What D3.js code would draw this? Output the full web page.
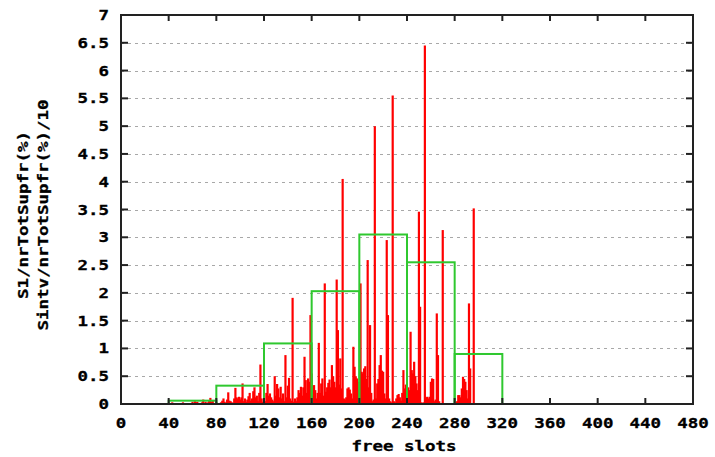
<!DOCTYPE html>
<html>
<head>
<meta charset="utf-8">
<script src="https://cdn.jsdelivr.net/npm/d3@7"></script>
<style>
  html, body { margin: 0; padding: 0; background: #fff; }
  svg { display: block; }
  text { font-family: "DejaVu Sans Mono", monospace; font-weight: bold; fill: #000; }
</style>
</head>
<body>
<svg id="chart" width="715" height="457"></svg>
<script>
// ---- data ----
const slotStart = 40;
const s1Values = [
  0,0,0,0.03,0,0,0,0,0,0,
  0,0,0.03,0,0,0,0,0,0,0,
  0.04,0.02,0.05,0.03,0.04,0.02,0,0,0.03,0.08,
  0.02,0.04,0,0.03,0.06,0.11,0.04,0.06,0.02,0,
  0.03,0,0,0.02,0.03,0.06,0.1,0.04,0.02,0.08,
  0.21,0.06,0.05,0.03,0.02,0.1,0.29,0.12,0.1,0.13,
  0.08,0.12,0.37,0.05,0.1,0.04,0.08,0.14,0.2,0.06,
  0.1,0.23,0.3,0.12,0.15,0.05,0.2,0.71,0.1,0.04,
  0.03,0.05,0.2,0.36,0.15,0.19,0.12,0.08,0.05,0.5,
  0.15,0.36,0.28,0.12,0.31,0.1,0.19,0.05,0.88,0.12,
  0.33,0.47,0.1,0.06,1.91,0.04,0.1,0.05,0.12,0.25,
  0.2,0.31,0.15,0.3,0.85,0.43,0.2,0.46,0.4,1.6,
  0.55,0.15,0.34,0.25,0.1,0.2,1.1,0.2,0.37,0.46,
  0.15,2.17,0.22,0.3,0.38,0.44,0.3,0.7,0.5,0.4,
  0.3,2.24,1.33,0.35,0.82,0.28,4.05,0.1,0.08,0.12,
  0.28,0.3,0.26,0.19,0.1,1.03,0.67,0.5,0.46,0.25,
  0.4,2.17,0.58,0.55,0.64,0.68,0.45,2.59,0.3,1.42,
  0.2,0.05,0.08,5.0,0.1,0.37,0.45,0.7,0.88,0.6,
  0.58,0.19,0.1,2.95,1.6,0.1,0.05,0.03,5.55,0.05,
  0.03,0.1,0.16,0.18,0.12,0.06,0.2,0.61,0.28,0.35,
  0.2,0.3,0.25,1.3,0.61,0.55,0.76,0.5,0.37,0.25,
  3.46,1.75,0.03,0.02,0.03,6.45,0.12,0.13,0.1,0.13,
  0.4,0.46,0.45,0.05,0.08,1.63,0.88,0.05,0,0,
  3.13,0,0,0,0,0,0,0,0,0,
  0,0.03,0.05,0.16,0.16,0.12,0.28,0.49,0.45,0.4,
  0.25,0.1,1.81,0.64,0,0,3.52,0
];
const slots = d3.range(slotStart, slotStart + s1Values.length);

const binStarts = [40, 80, 120, 160, 200, 240, 280];
const binEnds   = [80, 120, 160, 200, 240, 280, 320];
const sintvValues = [0.06, 0.33, 1.09, 2.03, 3.05, 2.55, 0.9];

const xTicks = [0, 40, 80, 120, 160, 200, 240, 280, 320, 360, 400, 440, 480];
const yTicks = [0, 0.5, 1, 1.5, 2, 2.5, 3, 3.5, 4, 4.5, 5, 5.5, 6, 6.5, 7];
const yTickLabels = ["0","0.5","1","1.5","2","2.5","3","3.5","4","4.5","5","5.5","6","6.5","7"];
const xLabel = "free slots";
const yLabel1 = "S1/nrTotSupfr(%)";
const yLabel2 = "Sintv/nrTotSupfr(%)/10";

// ---- layout ----
const L = 121, R = 693, T = 15, B = 404;
const CH = 10.5;
const svg = d3.select("#chart");
const x = d3.scaleLinear().domain([0, 480]).range([L, R]);
const y = d3.scaleLinear().domain([0, 7]).range([B, T]);

function wideText(g, str) {
  g.text(str)
   .attr("font-size", 14)
   .attr("stroke", "#000").attr("stroke-width", 0.3)
   .attr("textLength", str.length * CH)
   .attr("lengthAdjust", "spacingAndGlyphs");
  return g;
}

// grid
svg.append("g").selectAll("line")
  .data(yTicks.filter(v => v > 0 && v < 7))
  .join("line")
  .attr("x1", L).attr("x2", R)
  .attr("y1", d => Math.round(y(d)) + 0.5).attr("y2", d => Math.round(y(d)) + 0.5)
  .attr("stroke", "#a8a8a8").attr("stroke-width", 1.2)
  .attr("stroke-dasharray", "3,4");

// impulses (red)
svg.append("g").selectAll("line")
  .data(slots.map((s, i) => ({ s, v: s1Values[i] })).filter(d => d.v > 0))
  .join("line")
  .attr("x1", d => x(d.s)).attr("x2", d => x(d.s))
  .attr("y1", y(0)).attr("y2", d => y(d.v))
  .attr("stroke", "#ff0000").attr("stroke-width", 2.2);

// boxes (green)
svg.append("g").selectAll("rect")
  .data(binStarts.map((b, i) => ({ a: b, b: binEnds[i], v: sintvValues[i] })))
  .join("rect")
  .attr("x", d => x(d.a)).attr("width", d => x(d.b) - x(d.a))
  .attr("y", d => y(d.v)).attr("height", d => y(0) - y(d.v))
  .attr("fill", "none").attr("stroke", "#2fc82f").attr("stroke-width", 2);

// frame
svg.append("rect")
  .attr("x", L).attr("y", T).attr("width", R - L).attr("height", B - T)
  .attr("fill", "none").attr("stroke", "#222").attr("stroke-width", 2);

// ticks (inward, mirrored)
const tk = svg.append("g").attr("stroke", "#222").attr("stroke-width", 2);
tk.selectAll(".yl").data(yTicks).join("line")
  .attr("x1", L).attr("x2", L + 7).attr("y1", d => y(d)).attr("y2", d => y(d));
tk.selectAll(".yr").data(yTicks).join("line")
  .attr("x1", R).attr("x2", R - 7).attr("y1", d => y(d)).attr("y2", d => y(d));
tk.selectAll(".xb").data(xTicks).join("line")
  .attr("x1", d => x(d)).attr("x2", d => x(d)).attr("y1", B).attr("y2", B - 6);
tk.selectAll(".xt").data(xTicks).join("line")
  .attr("x1", d => x(d)).attr("x2", d => x(d)).attr("y1", T).attr("y2", T + 6);

// tick labels
svg.append("g").selectAll("text").data(yTicks).join("text")
  .attr("x", 109).attr("y", d => y(d) + 5)
  .attr("text-anchor", "end")
  .each(function(d, i) { wideText(d3.select(this), yTickLabels[i]); });

svg.append("g").selectAll("text").data(xTicks).join("text")
  .attr("x", d => x(d)).attr("y", 428)
  .attr("text-anchor", "middle")
  .each(function(d) { wideText(d3.select(this), String(d)); });

// axis titles
wideText(svg.append("text").attr("x", 404).attr("y", 451).attr("text-anchor", "middle"), xLabel);
wideText(svg.append("text").attr("transform", "translate(28,215) rotate(-90)").attr("text-anchor", "middle"), yLabel1);
wideText(svg.append("text").attr("transform", "translate(48,215) rotate(-90)").attr("text-anchor", "middle"), yLabel2);
</script>
</body>
</html>
